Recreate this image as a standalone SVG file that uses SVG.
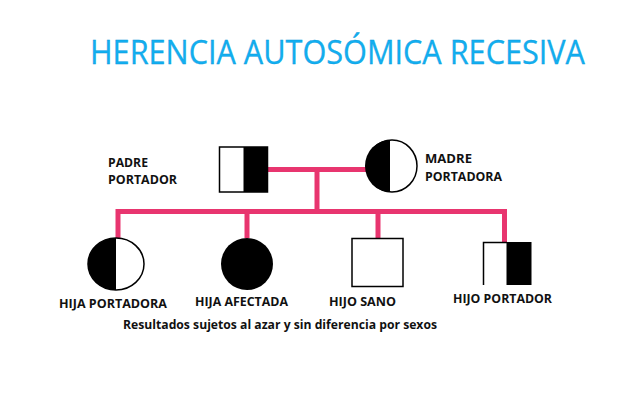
<svg xmlns="http://www.w3.org/2000/svg" width="640" height="404" viewBox="0 0 640 404">
<style>
.lbl{font-family:"Open Sans","Liberation Sans",sans-serif;font-weight:700;font-size:12.5px;fill:#111}
.ln{stroke:#e8356f;stroke-width:5;fill:none}
.ol{stroke:#000;stroke-width:1.5;fill:#fff}
.bk{fill:#000}
</style>
<rect width="640" height="404" fill="#fff"/>
<text x="90" y="64" font-family="'Open Sans','Liberation Sans',sans-serif" font-size="33" fill="#12aef0" stroke="#0a9ad8" stroke-width="0.3" textLength="495" lengthAdjust="spacingAndGlyphs">HERENCIA AUTOSÓMICA RECESIVA</text>
<g id="connectors">
<line class="ln" x1="268" y1="169.5" x2="368" y2="169.5"/>
<line class="ln" x1="317" y1="169.5" x2="317" y2="212"/>
<line class="ln" x1="116" y1="211.5" x2="507" y2="211.5"/>
<line class="ln" x1="118" y1="209" x2="118" y2="239"/>
<line class="ln" x1="247" y1="211" x2="247" y2="238"/>
<line class="ln" x1="378" y1="211" x2="378" y2="238"/>
<line class="ln" x1="504.5" y1="209" x2="504.5" y2="242"/>
</g>
<g id="padre">
<rect class="ol" x="219.5" y="147" width="48" height="45"/>
<rect class="bk" x="243.5" y="147" width="24.5" height="45"/>
<text class="lbl" x="108" y="167" textLength="40" lengthAdjust="spacingAndGlyphs">PADRE</text>
<text class="lbl" x="108" y="184" textLength="69" lengthAdjust="spacingAndGlyphs">PORTADOR</text>
</g>
<g id="madre">
<ellipse class="ol" cx="392" cy="166" rx="25" ry="26"/>
<path class="bk" d="M390,140 A25,26 0 0 0 390,192 Z"/>
<text class="lbl" x="425" y="163" textLength="47" lengthAdjust="spacingAndGlyphs">MADRE</text>
<text class="lbl" x="425" y="181" textLength="77" lengthAdjust="spacingAndGlyphs">PORTADORA</text>
</g>
<g id="hija-portadora">
<ellipse class="ol" cx="116" cy="264" rx="28" ry="26"/>
<path class="bk" d="M116,238 A28,26 0 0 0 116,290 Z"/>
<text class="lbl" x="59" y="308" textLength="108" lengthAdjust="spacingAndGlyphs">HIJA PORTADORA</text>
</g>
<g id="hija-afectada">
<ellipse cx="247" cy="264" rx="26" ry="26" fill="#000"/>
<text class="lbl" x="195" y="306" textLength="93" lengthAdjust="spacingAndGlyphs">HIJA AFECTADA</text>
</g>
<g id="hijo-sano">
<rect class="ol" x="352" y="238.5" width="51" height="48"/>
<text class="lbl" x="329" y="306" textLength="67" lengthAdjust="spacingAndGlyphs">HIJO SANO</text>
</g>
<g id="hijo-portador">
<path d="M483.5,285 V242.5 H507" stroke="#000" stroke-width="1.5" fill="none"/>
<rect class="bk" x="506.5" y="242" width="25" height="43"/>
<text class="lbl" x="453" y="303" textLength="99" lengthAdjust="spacingAndGlyphs">HIJO PORTADOR</text>
</g>
<text class="lbl" x="123" y="329" textLength="314" lengthAdjust="spacingAndGlyphs">Resultados sujetos al azar y sin diferencia por sexos</text>
</svg>
